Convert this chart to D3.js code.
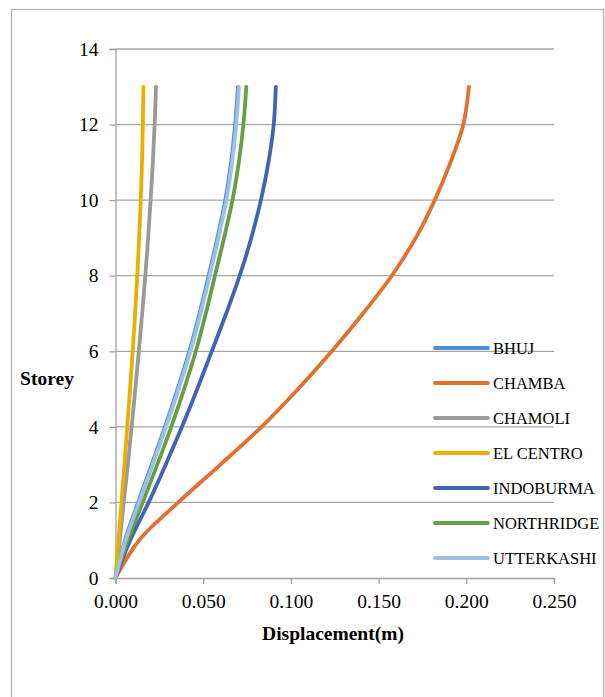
<!DOCTYPE html>
<html>
<head>
<meta charset="utf-8">
<script src="https://cdn.jsdelivr.net/npm/d3@7"></script>
<style>
  html, body { margin: 0; padding: 0; background: #fff; }
  svg text { font-family: "Liberation Serif", "Times New Roman", serif; fill: #000; }
</style>
</head>
<body>
<svg id="chart" width="605" height="697"></svg>
<script>
// Storey levels (0 = ground)
const storeys = [0, 1, 2, 3, 4, 5, 6, 7, 8, 9, 10, 11, 12, 13];

// Storey displacement (m) for each ground motion record
const bhuj       = [0, 0.0054, 0.0129, 0.0206, 0.0282, 0.0354, 0.0421, 0.0479, 0.0531, 0.0581, 0.0626, 0.0659, 0.0682, 0.0698];
const chamba     = [0, 0.0135, 0.0358, 0.0598, 0.0833, 0.1041, 0.1233, 0.1411, 0.1575, 0.1712, 0.1820, 0.1910, 0.1983, 0.2015];
const chamoli    = [0, 0.0024, 0.0047, 0.0070, 0.0092, 0.0113, 0.0133, 0.0152, 0.0170, 0.0186, 0.0200, 0.0213, 0.0223, 0.0231];
const elCentro   = [0, 0.0017, 0.0034, 0.0051, 0.0067, 0.0083, 0.0098, 0.0112, 0.0124, 0.0135, 0.0144, 0.0151, 0.0156, 0.0159];
const indoburma  = [0, 0.0084, 0.0189, 0.0286, 0.0379, 0.0466, 0.0549, 0.0631, 0.0708, 0.0774, 0.0829, 0.0872, 0.0902, 0.0914];
const northridge = [0, 0.0070, 0.0155, 0.0238, 0.0318, 0.0391, 0.0458, 0.0515, 0.0567, 0.0619, 0.0667, 0.0703, 0.0729, 0.0746];
const utterkashi = [0, 0.0058, 0.0134, 0.0212, 0.0288, 0.0360, 0.0427, 0.0485, 0.0537, 0.0587, 0.0632, 0.0665, 0.0688, 0.0704];

const seriesNames  = ["BHUJ", "CHAMBA", "CHAMOLI", "EL CENTRO", "INDOBURMA", "NORTHRIDGE", "UTTERKASHI"];
const seriesValues = [bhuj, chamba, chamoli, elCentro, indoburma, northridge, utterkashi];
const seriesColors = ["#4F8FCC", "#E2702E", "#9A9A9A", "#EBAF00", "#3F66B5", "#66A042", "#9DC1E6"];

const xTicks = [0, 0.05, 0.10, 0.15, 0.20, 0.25];
const yTicks = [0, 2, 4, 6, 8, 10, 12, 14];

const serif = "'Liberation Serif', 'Times New Roman', serif";
const svg = d3.select("#chart");

// Outer chart border
svg.append("rect")
  .attr("x", 11.5).attr("y", 9.5)
  .attr("width", 592).attr("height", 700)
  .attr("fill", "#fff").attr("stroke", "#AFAFAF").attr("stroke-width", 1.2);

const plot = { left: 115.5, right: 554, top: 49, bottom: 578 };

const x = d3.scaleLinear().domain([0, 0.25]).range([plot.left, plot.right]);
const y = d3.scaleLinear().domain([0, 14]).range([plot.bottom, plot.top]);

// Horizontal gridlines
svg.append("g")
  .selectAll("line")
  .data(yTicks.filter(d => d > 0))
  .join("line")
  .attr("x1", plot.left).attr("x2", plot.right)
  .attr("y1", d => y(d)).attr("y2", d => y(d))
  .attr("stroke", "#A6A6A6").attr("stroke-width", 1.3);

// Y axis
const yAxis = svg.append("g")
  .attr("transform", `translate(${plot.left},0)`)
  .call(d3.axisLeft(y).tickValues(yTicks).tickSize(6).tickPadding(11).tickFormat(d3.format("d")));
yAxis.attr("font-family", null).attr("font-size", null);
yAxis.select(".domain").attr("stroke", "#A0A0A0").attr("stroke-width", 1.3);
yAxis.selectAll(".tick line").attr("stroke", "#A0A0A0").attr("stroke-width", 1.3);
yAxis.selectAll(".tick text")
  .style("font-family", serif).style("font-size", "19.5px").attr("fill", "#000");

// X axis
const xAxis = svg.append("g")
  .attr("transform", `translate(0,${plot.bottom})`)
  .call(d3.axisBottom(x).tickValues(xTicks).tickSize(6).tickPadding(10).tickFormat(d3.format(".3f")));
xAxis.attr("font-family", null).attr("font-size", null);
xAxis.select(".domain").attr("stroke", "#A0A0A0").attr("stroke-width", 1.3);
xAxis.selectAll(".tick line").attr("stroke", "#A0A0A0").attr("stroke-width", 1.3);
xAxis.selectAll(".tick text")
  .style("font-family", serif).style("font-size", "19.5px").attr("fill", "#000");

// Axis titles
svg.append("text")
  .attr("x", 333).attr("y", 640)
  .attr("text-anchor", "middle")
  .style("font-family", serif).style("font-size", "19.5px").style("font-weight", "bold")
  .text("Displacement(m)");

svg.append("text")
  .attr("x", 47).attr("y", 385)
  .attr("text-anchor", "middle")
  .style("font-family", serif).style("font-size", "19.5px").style("font-weight", "bold")
  .text("Storey");

// Displacement profiles
const line = d3.line()
  .x(d => x(d[0]))
  .y(d => y(d[1]))
  .curve(d3.curveCatmullRom.alpha(0.5));

svg.append("g")
  .selectAll("path")
  .data(seriesValues.map((vals, i) => ({ name: seriesNames[i], color: seriesColors[i], pts: vals.map((v, j) => [v, storeys[j]]) })))
  .join("path")
  .attr("d", d => line(d.pts))
  .attr("fill", "none")
  .attr("stroke", d => d.color)
  .attr("stroke-width", 3.8)
  .attr("stroke-linecap", "round")
  .attr("stroke-linejoin", "round");

// Legend
const legend = svg.append("g")
  .selectAll("g")
  .data(seriesNames.map((n, i) => ({ name: n, color: seriesColors[i], i })))
  .join("g")
  .attr("transform", d => `translate(435,${348 + d.i * 35})`);

legend.append("line")
  .attr("x1", 0).attr("x2", 53)
  .attr("y1", 0).attr("y2", 0)
  .attr("stroke", d => d.color).attr("stroke-width", 3.8)
  .attr("stroke-linecap", "round");

legend.append("text")
  .attr("x", 58).attr("y", 0).attr("dy", "0.35em")
  .style("font-family", serif).style("font-size", "16.5px")
  .text(d => d.name);
</script>
</body>
</html>
